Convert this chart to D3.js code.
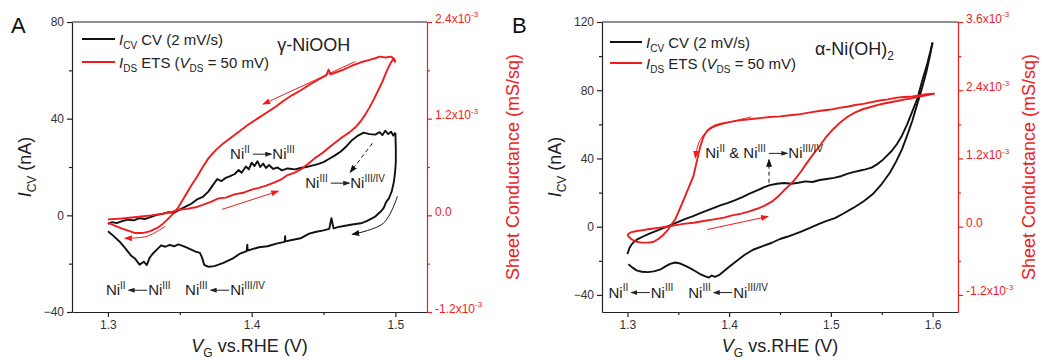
<!DOCTYPE html>
<html>
<head>
<meta charset="utf-8">
<script src="https://cdn.jsdelivr.net/npm/d3@7"></script>
<style>
body { margin: 0; background: #fff; }
svg { font-family: "Liberation Sans", Arial, sans-serif; }
</style>
</head>
<body>
<div id="chart"></div>
<script>
// ---- panel A (gamma-NiOOH): [V, nA] and [V, mS/sq x 1e-3] ----
var cvA_fwd = [[1.300,-3.5],[1.303,-2.8],[1.306,-3.2],[1.310,-2.4],[1.314,-1.8],[1.318,-2.1],[1.322,-1.2],[1.326,-1.5],
  [1.330,-0.6],[1.334,0.2],[1.338,0.6],[1.342,1.3],[1.346,1.0],[1.350,2.4],[1.354,3.6],[1.358,4.8],[1.362,6.6],
  [1.366,7.6],[1.370,9.9],[1.373,12.5],[1.376,15.0],[1.379,14.2],[1.382,15.5],[1.385,16.2],[1.388,17.0],[1.391,18.8],
  [1.393,17.6],[1.396,20.2],[1.398,19.0],[1.400,21.8],[1.402,20.4],[1.404,22.4],[1.406,20.0],[1.408,21.4],[1.410,19.6],
  [1.412,20.8],[1.415,19.2],[1.418,19.8],[1.421,18.6],[1.425,19.4],[1.430,19.0],[1.434,19.6],[1.438,20.0],[1.442,20.6],
  [1.446,21.2],[1.450,22.0],[1.454,23.4],[1.458,24.8],[1.462,26.4],[1.466,28.6],[1.470,31.2],[1.474,33.0],[1.478,34.2],
  [1.482,33.6],[1.486,33.4],[1.489,34.4],[1.491,33.2],[1.493,35.0],[1.495,33.6],[1.497,34.6],[1.4985,33.0],[1.500,34.2]];
var cvA_rev = [[1.500,34.2],[1.5003,28],[1.5003,22],[1.4998,18],[1.499,14],[1.4975,10],[1.4955,7],[1.4935,5.5],
  [1.492,3.2],[1.490,1.7],[1.486,-0.5],[1.480,-2.4],[1.476,-3.3],[1.470,-3.8],[1.465,-4.3],[1.460,-4.9],[1.457,-5.4],
  [1.4555,-1.2],[1.454,-5.6],[1.450,-6.2],[1.445,-6.8],[1.440,-7.6],[1.434,-9.5],[1.428,-10.2],[1.4235,-10.8],
  [1.4233,-8.6],[1.423,-11.0],[1.418,-11.6],[1.411,-12.8],[1.405,-13.2],[1.3972,-14.6],[1.397,-12.2],[1.3965,-14.8],
  [1.392,-15.8],[1.387,-17.8],[1.380,-19.8],[1.374,-21.0],[1.370,-21.3],[1.367,-20.5],[1.3655,-17.5],[1.364,-15.5],
  [1.361,-15.0],[1.358,-14.2],[1.355,-13.4],[1.352,-12.6],[1.349,-12.0],[1.346,-12.8],[1.343,-12.2],[1.340,-13.0],
  [1.337,-12.4],[1.334,-14.2],[1.331,-16.0],[1.329,-17.6],[1.327,-20.6],[1.325,-19.2],[1.322,-20.4],[1.319,-18.0],
  [1.316,-16.6],[1.312,-13.6],[1.308,-10.8],[1.304,-8.6],[1.300,-6.6]];
var etsA_fwd = [[1.300,-0.05],[1.310,-0.04],[1.320,-0.02],[1.330,0.0],[1.338,0.02],[1.344,0.04],[1.349,0.07],
  [1.355,0.08],[1.361,0.10],[1.366,0.13],[1.372,0.17],[1.377,0.21],[1.382,0.22],[1.388,0.26],[1.394,0.28],[1.400,0.32],
  [1.405,0.34],[1.410,0.37],[1.416,0.41],[1.421,0.45],[1.425,0.50],[1.430,0.53],[1.435,0.58],[1.440,0.65],[1.444,0.71],
  [1.449,0.77],[1.453,0.83],[1.458,0.90],[1.463,0.97],[1.468,1.03],[1.472,1.09],[1.476,1.17],[1.479,1.25],[1.482,1.34],
  [1.485,1.44],[1.488,1.55],[1.491,1.66],[1.493,1.75],[1.495,1.83],[1.497,1.90],[1.4985,1.94],[1.500,1.90]];
var etsA_rev = [[1.500,1.90],[1.4993,1.94],[1.497,1.97],[1.493,1.96],[1.489,1.97],[1.486,1.95],[1.482,1.93],
  [1.476,1.90],[1.470,1.86],[1.464,1.81],[1.458,1.77],[1.455,1.75],[1.4535,1.81],[1.452,1.74],[1.446,1.68],[1.440,1.62],
  [1.434,1.55],[1.428,1.49],[1.422,1.42],[1.416,1.34],[1.410,1.27],[1.404,1.20],[1.398,1.13],[1.392,1.05],[1.386,0.97],
  [1.380,0.89],[1.375,0.81],[1.370,0.71],[1.366,0.60],[1.362,0.48],[1.358,0.37],[1.355,0.28],[1.352,0.19],[1.349,0.10],
  [1.346,0.03],[1.342,-0.04],[1.338,-0.11],[1.334,-0.16],[1.329,-0.20],[1.324,-0.22],[1.319,-0.22],[1.314,-0.19],
  [1.309,-0.16],[1.305,-0.13],[1.300,-0.09]];

// ---- panel B (alpha-Ni(OH)2) ----
var cvB_fwd = [[1.300,-16],[1.302,-12.5],[1.304,-10.5],[1.307,-8.5],[1.311,-7.0],[1.316,-5.6],[1.321,-4.2],[1.326,-3.0],
  [1.332,-1.6],[1.338,-0.2],[1.344,1.4],[1.350,2.8],[1.357,4.6],[1.364,6.0],[1.371,7.8],[1.378,9.4],[1.385,11.0],
  [1.392,12.6],[1.399,14.0],[1.406,15.6],[1.413,17.4],[1.420,19.4],[1.427,21.2],[1.434,23.0],[1.440,24.4],[1.447,25.2],
  [1.454,25.6],[1.461,25.2],[1.468,25.8],[1.475,26.6],[1.482,26.2],[1.489,27.4],[1.496,28.0],[1.503,28.6],[1.510,29.6],
  [1.516,31.0],[1.522,32.0],[1.528,32.8],[1.534,33.6],[1.540,34.6],[1.545,36.4],[1.550,38.6],[1.555,41.5],[1.560,44.5],
  [1.565,48.5],[1.570,53.5],[1.575,60.0],[1.580,67.5],[1.585,75.0],[1.590,86.0],[1.595,96.0],[1.600,108.0]];
var cvB_rev = [[1.600,108],[1.597,99],[1.594,91],[1.590,82],[1.585,72],[1.580,62],[1.575,53.5],[1.570,45.5],
  [1.564,38],[1.558,31.6],[1.550,25],[1.541,19],[1.532,14.8],[1.522,11.0],[1.512,7.6],[1.504,5.0],[1.496,3.4],
  [1.489,1.8],[1.480,-0.6],[1.472,-2.6],[1.465,-4.2],[1.457,-5.9],[1.450,-7.2],[1.442,-9.4],[1.433,-11.4],
  [1.4235,-13.5],[1.415,-16.6],[1.408,-19.8],[1.401,-23.0],[1.395,-26.0],[1.390,-28.4],[1.386,-29.4],[1.383,-28.6],
  [1.380,-29.8],[1.376,-29.0],[1.371,-27.6],[1.366,-25.8],[1.362,-24.4],[1.357,-23.0],[1.352,-21.6],[1.347,-21.0],
  [1.342,-21.8],[1.337,-23.4],[1.332,-25.2],[1.326,-26.2],[1.320,-26.6],[1.314,-26.4],[1.309,-25.6],[1.305,-24.0],
  [1.301,-22.0]];
var etsB_fwd = [[1.300,-0.14],[1.303,-0.10],[1.308,-0.08],[1.315,-0.06],[1.322,-0.04],[1.330,-0.02],[1.338,0.0],
  [1.345,0.02],[1.355,0.05],[1.365,0.07],[1.375,0.10],[1.385,0.13],[1.395,0.16],[1.403,0.20],[1.412,0.23],[1.420,0.27],
  [1.428,0.32],[1.435,0.37],[1.442,0.44],[1.448,0.53],[1.454,0.64],[1.460,0.74],[1.466,0.86],[1.471,0.98],[1.476,1.11],
  [1.482,1.26],[1.489,1.42],[1.495,1.57],[1.502,1.71],[1.509,1.83],[1.516,1.93],[1.524,2.01],[1.532,2.07],[1.540,2.11],
  [1.548,2.15],[1.556,2.18],[1.565,2.21],[1.573,2.24],[1.580,2.26],[1.587,2.29],[1.594,2.31],[1.602,2.34]];
var etsB_rev = [[1.602,2.34],[1.594,2.33],[1.587,2.31],[1.580,2.29],[1.572,2.28],[1.565,2.27],[1.556,2.24],
  [1.548,2.22],[1.540,2.19],[1.532,2.16],[1.524,2.14],[1.516,2.11],[1.508,2.09],[1.500,2.06],[1.490,2.04],[1.480,2.01],
  [1.470,1.98],[1.460,1.96],[1.450,1.94],[1.440,1.93],[1.430,1.91],[1.420,1.89],[1.410,1.87],[1.400,1.84],[1.392,1.81],
  [1.386,1.78],[1.382,1.74],[1.378,1.68],[1.375,1.59],[1.3716,1.41],[1.3686,1.18],[1.3647,0.88],[1.360,0.68],[1.354,0.42],
  [1.347,0.13],[1.340,-0.05],[1.335,-0.15],[1.330,-0.22],[1.325,-0.27],[1.3206,-0.28],[1.314,-0.28],[1.308,-0.26],
  [1.304,-0.22],[1.301,-0.17],[1.300,-0.14]];

// ---- ticks ----
var xMajorA = [1.3, 1.4, 1.5], xMinorA = [1.35, 1.45];
var yMajorA = [-40, 0, 40, 80], yMinorA = [-20, 20, 60];
var rMajorA = [-1.2, 0, 1.2, 2.4], rMinorA = [-0.6, 0.6, 1.8];
var xMajorB = [1.3, 1.4, 1.5, 1.6], xMinorB = [1.35, 1.45, 1.55];
var yMajorB = [-40, 0, 40, 80, 120], yMinorB = [-20, 20, 60, 100];
var rMajorB = [-1.2, 0, 1.2, 2.4, 3.6], rMinorB = [-0.6, 0.6, 1.8, 3.0];

// ---- annotations (data units; "r" = right axis) ----
var labelsA = [
  {v: 1.385, y: 23.2, size: 15, parts: [["Ni"], ["II", "sup"], ["", "arrR"], ["Ni"], ["III", "sup"]]},
  {v: 1.4373, y: 11.2, size: 15, parts: [["Ni"], ["III", "sup"], ["", "arrR"], ["Ni"], ["III/IV", "sup"]]},
  {v: 1.2986, y: -33.1, size: 15, parts: [["Ni"], ["II", "sup"], ["", "arrL"], ["Ni"], ["III", "sup"]]},
  {v: 1.3537, y: -33.1, size: 15, parts: [["Ni"], ["III", "sup"], ["", "arrL"], ["Ni"], ["III/IV", "sup"]]},
  {v: 1.4178, y: 67.9, size: 18, parts: [["\u03b3-NiOOH"]]}
];
var labelsB = [
  {v: 1.3765, y: 40, size: 15, parts: [["Ni"], ["II", "sup"], [" & Ni"], ["III", "sup"], ["", "arrR"], ["Ni"], ["III/IV", "sup"]]},
  {v: 1.2814, y: -41.6, size: 15, parts: [["Ni"], ["II", "sup"], ["", "arrL"], ["Ni"], ["III", "sup"]]},
  {v: 1.3598, y: -41.6, size: 15, parts: [["Ni"], ["III", "sup"], ["", "arrL"], ["Ni"], ["III/IV", "sup"]]},
  {v: 1.4843, y: 100.8, size: 18, parts: [["\u03b1-Ni(OH)"], ["2", "sub"]]}
];
var arrowsA = [
  {axis: "r", color: "red", pts: [[1.4721, 1.91], [1.408, 1.38]]},
  {axis: "r", color: "red", pts: [[1.3794, 0.074], [1.4185, 0.30]]},
  {axis: "r", color: "red", pts: [[1.3397, -0.137], [1.3272, -0.26], [1.3118, -0.285]]},
  {axis: "l", color: "black", pts: [[1.5014, 7.9], [1.4916, -3.3], [1.470, -7.9]]},
  {axis: "l", color: "black", dash: true, pts: [[1.484, 29.8], [1.4686, 17.8]]}
];
var arrowsB = [
  {axis: "r", color: "red", pts: [[1.4216, 1.93], [1.3863, 1.76], [1.3716, 1.53], [1.3667, 1.21]]},
  {axis: "r", color: "red", pts: [[1.3784, -0.05], [1.4382, 0.18]]},
  {axis: "l", color: "black", dash: true, pts: [[1.4392, 25.8], [1.4392, 39.3]]}
];

var legendCV = [["I", "i"], ["CV", "sub"], [" CV (2 mV/s)"]];
var legendETS = [["I", "i"], ["DS", "sub"], [" ETS ("], ["V", "i"], ["DS", "sub"], [" = 50 mV)"]];
var titleY = [["I", "i"], ["CV", "sub"], [" (nA)"]];
var titleX = [["V", "i"], ["G", "sub"], [" vs.RHE (V)"]];
var titleR = "Sheet Conductance (mS/sq)";

var RED = "#ee1c1c";

var svg = d3.select("#chart").append("svg").attr("width", 1045).attr("height", 360);
var defs = svg.append("defs");
[["arrRed", RED, 8, 6], ["arrBlk", "#111", 8, 6], ["arrTxt", "#222", 7, 5]].forEach(function(m) {
  defs.append("marker").attr("id", m[0]).attr("markerUnits", "userSpaceOnUse")
    .attr("markerWidth", m[2]).attr("markerHeight", m[3]).attr("refX", m[2] - 1).attr("refY", m[3] / 2)
    .attr("orient", "auto")
    .append("path").attr("d", "M0,0 L" + m[2] + "," + (m[3] / 2) + " L0," + m[3] + " Z").attr("fill", m[1]);
});

// text with italic / sub / sup pieces; "arrR"/"arrL" leave a gap and draw a small arrow in it
function rich(sel, parts, fs) {
  var shift = 0, gaps = [];
  parts.forEach(function(p) {
    var s = p[1] || "";
    var target = s === "sub" ? 0.28 * fs : (s === "sup" ? -0.42 * fs : 0);
    var txt = (s === "arrR" || s === "arrL") ? "\u2002\u2002\u2002" : p[0];
    var ts = sel.append("tspan").text(txt).attr("dy", target - shift);
    shift = target;
    if (s === "sub" || s === "sup") ts.attr("font-size", Math.round(0.68 * fs));
    if (s === "i") ts.attr("font-style", "italic");
    if (s === "arrR" || s === "arrL") gaps.push([ts, s]);
  });
  gaps.forEach(function(gp) {
    var n = gp[0].node();
    var a = n.getStartPositionOfChar(0), b = n.getEndPositionOfChar(2);
    var yy = a.y - 0.34 * fs;
    var x1 = a.x + 3, x2 = b.x - 1;
    d3.select(sel.node().parentNode).append("line")
      .attr("x1", gp[1] === "arrR" ? x1 : x2).attr("x2", gp[1] === "arrR" ? x2 : x1)
      .attr("y1", yy).attr("y2", yy).attr("stroke", "#222").attr("stroke-width", 1)
      .attr("marker-end", "url(#arrTxt)");
  });
}

function drawPanel(p) {
  var g = svg.append("g");
  var x = d3.scaleLinear().domain(p.xDom).range([p.left, p.right]);
  var y = d3.scaleLinear().domain(p.yDom).range([p.bottom, p.top]);
  var yr = d3.scaleLinear().domain(p.rDom).range([p.bottom, p.top]);

  // frame top
  g.append("line").attr("x1", p.left).attr("x2", p.right).attr("y1", p.top).attr("y2", p.top)
    .attr("stroke", "#222").attr("stroke-width", 1.2);

  function styleAxis(a, color) {
    a.select(".domain").attr("stroke", color).attr("stroke-width", 1.2);
    a.selectAll(".tick line").attr("stroke", color).attr("stroke-width", 1.2);
    a.selectAll(".tick text").attr("fill", color === "#222" ? "#333" : color)
      .attr("font-size", 12).attr("font-family", "Liberation Sans, Arial, sans-serif");
  }

  // bottom
  var xa = g.append("g").attr("transform", "translate(0," + p.bottom + ")")
    .call(d3.axisBottom(x).tickValues(p.xMajor).tickSize(5).tickSizeOuter(0).tickFormat(d3.format(".1f")));
  styleAxis(xa, "#222");
  var xm = g.append("g").attr("transform", "translate(0," + p.bottom + ")")
    .call(d3.axisBottom(x).tickValues(p.xMinor).tickSize(3).tickFormat(""));
  xm.select(".domain").remove();
  styleAxis(xm, "#222");

  // left
  var ya = g.append("g").attr("transform", "translate(" + p.left + ",0)")
    .call(d3.axisLeft(y).tickValues(p.yMajor).tickSize(5).tickSizeOuter(0));
  styleAxis(ya, "#222");
  var ym = g.append("g").attr("transform", "translate(" + p.left + ",0)")
    .call(d3.axisLeft(y).tickValues(p.yMinor).tickSize(3).tickFormat(""));
  ym.select(".domain").remove();
  styleAxis(ym, "#222");

  // right (red)
  var ra = g.append("g").attr("transform", "translate(" + p.right + ",0)")
    .call(d3.axisRight(yr).tickValues(p.rMajor).tickSize(5).tickSizeOuter(0));
  styleAxis(ra, RED);
  ra.selectAll(".tick text").each(function(d) {
    var t = d3.select(this).text("");
    if (d === 0) rich(t, [["0.0"]], 12);
    else rich(t, [[d.toFixed(1) + "x10"], ["-3", "sup"]], 12);
  });
  var rm = g.append("g").attr("transform", "translate(" + p.right + ",0)")
    .call(d3.axisRight(yr).tickValues(p.rMinor).tickSize(3).tickFormat(""));
  rm.select(".domain").remove();
  styleAxis(rm, RED);

  // titles
  var midY = (p.top + p.bottom) / 2;
  rich(g.append("text").attr("text-anchor", "middle").attr("font-size", 18).attr("fill", "#222")
    .attr("transform", "translate(" + (p.left - 41) + "," + midY + ") rotate(-90)"), titleY, 18);
  rich(g.append("text").attr("text-anchor", "middle").attr("font-size", 18).attr("fill", "#222")
    .attr("x", (p.left + p.right) / 2).attr("y", 352), titleX, 18);
  g.append("text").attr("text-anchor", "middle").attr("font-size", 18).attr("fill", RED)
    .attr("transform", "translate(" + p.rTitleX + "," + midY + ") rotate(-90)").text(titleR);

  // panel letter
  g.append("text").attr("x", p.letterX).attr("y", 33).attr("font-size", 22).attr("fill", "#111").text(p.letter);

  // curves
  var lineL = d3.line().x(function(d) { return x(d[0]); }).y(function(d) { return y(d[1]); });
  var lineR = d3.line().x(function(d) { return x(d[0]); }).y(function(d) { return yr(d[1]); });
  [p.cvF, p.cvR].forEach(function(s) {
    g.append("path").datum(s).attr("d", lineL).attr("fill", "none").attr("stroke", "#111")
      .attr("stroke-width", 1.9).attr("stroke-linejoin", "round");
  });
  [p.etsF, p.etsR].forEach(function(s) {
    g.append("path").datum(s).attr("d", lineR).attr("fill", "none").attr("stroke", RED)
      .attr("stroke-width", 1.9).attr("stroke-linejoin", "round");
  });

  // arrows
  p.arrows.forEach(function(a) {
    var sc = a.axis === "r" ? yr : y;
    var ln = d3.line().x(function(d) { return x(d[0]); }).y(function(d) { return sc(d[1]); })
      .curve(d3.curveCardinal);
    g.append("path").datum(a.pts).attr("d", ln).attr("fill", "none")
      .attr("stroke", a.color === "red" ? RED : "#111").attr("stroke-width", 1)
      .attr("stroke-dasharray", a.dash ? "4,3" : null)
      .attr("marker-end", a.color === "red" ? "url(#arrRed)" : "url(#arrBlk)");
  });

  // annotation labels
  p.labels.forEach(function(l) {
    var t = g.append("text").attr("x", x(l.v)).attr("y", y(l.y)).attr("font-size", l.size).attr("fill", "#222");
    rich(t, l.parts, l.size);
  });

  // legend
  var lg = [[legendCV, "#111"], [legendETS, RED]];
  lg.forEach(function(row, i) {
    var ly = p.top + p.legY[i];
    g.append("line").attr("x1", p.left + p.legX[0]).attr("x2", p.left + p.legX[1])
      .attr("y1", ly).attr("y2", ly).attr("stroke", row[1]).attr("stroke-width", 2);
    rich(g.append("text").attr("x", p.left + p.legX[1] + 4).attr("y", ly + 6)
      .attr("font-size", 15).attr("fill", "#222"), row[0], 15);
  });
}

drawPanel({
  letter: "A", letterX: 11, left: 72, right: 427, top: 22, bottom: 312, rTitleX: 519,
  xDom: [1.275, 1.522], yDom: [-40, 80], rDom: [-1.2, 2.4],
  xMajor: xMajorA, xMinor: xMinorA, yMajor: yMajorA, yMinor: yMinorA, rMajor: rMajorA, rMinor: rMinorA,
  cvF: cvA_fwd, cvR: cvA_rev, etsF: etsA_fwd, etsR: etsA_rev,
  arrows: arrowsA, labels: labelsA, legX: [10, 43], legY: [17, 40]
});
drawPanel({
  letter: "B", letterX: 512, left: 602, right: 958, top: 22, bottom: 312, rTitleX: 1035,
  xDom: [1.275, 1.625], yDom: [-50, 120], rDom: [-1.5, 3.6],
  xMajor: xMajorB, xMinor: xMinorB, yMajor: yMajorB, yMinor: yMinorB, rMajor: rMajorB, rMinor: rMinorB,
  cvF: cvB_fwd, cvR: cvB_rev, etsF: etsB_fwd, etsR: etsB_rev,
  arrows: arrowsB, labels: labelsB, legX: [8, 40], legY: [20, 41]
});
</script>
</body>
</html>
